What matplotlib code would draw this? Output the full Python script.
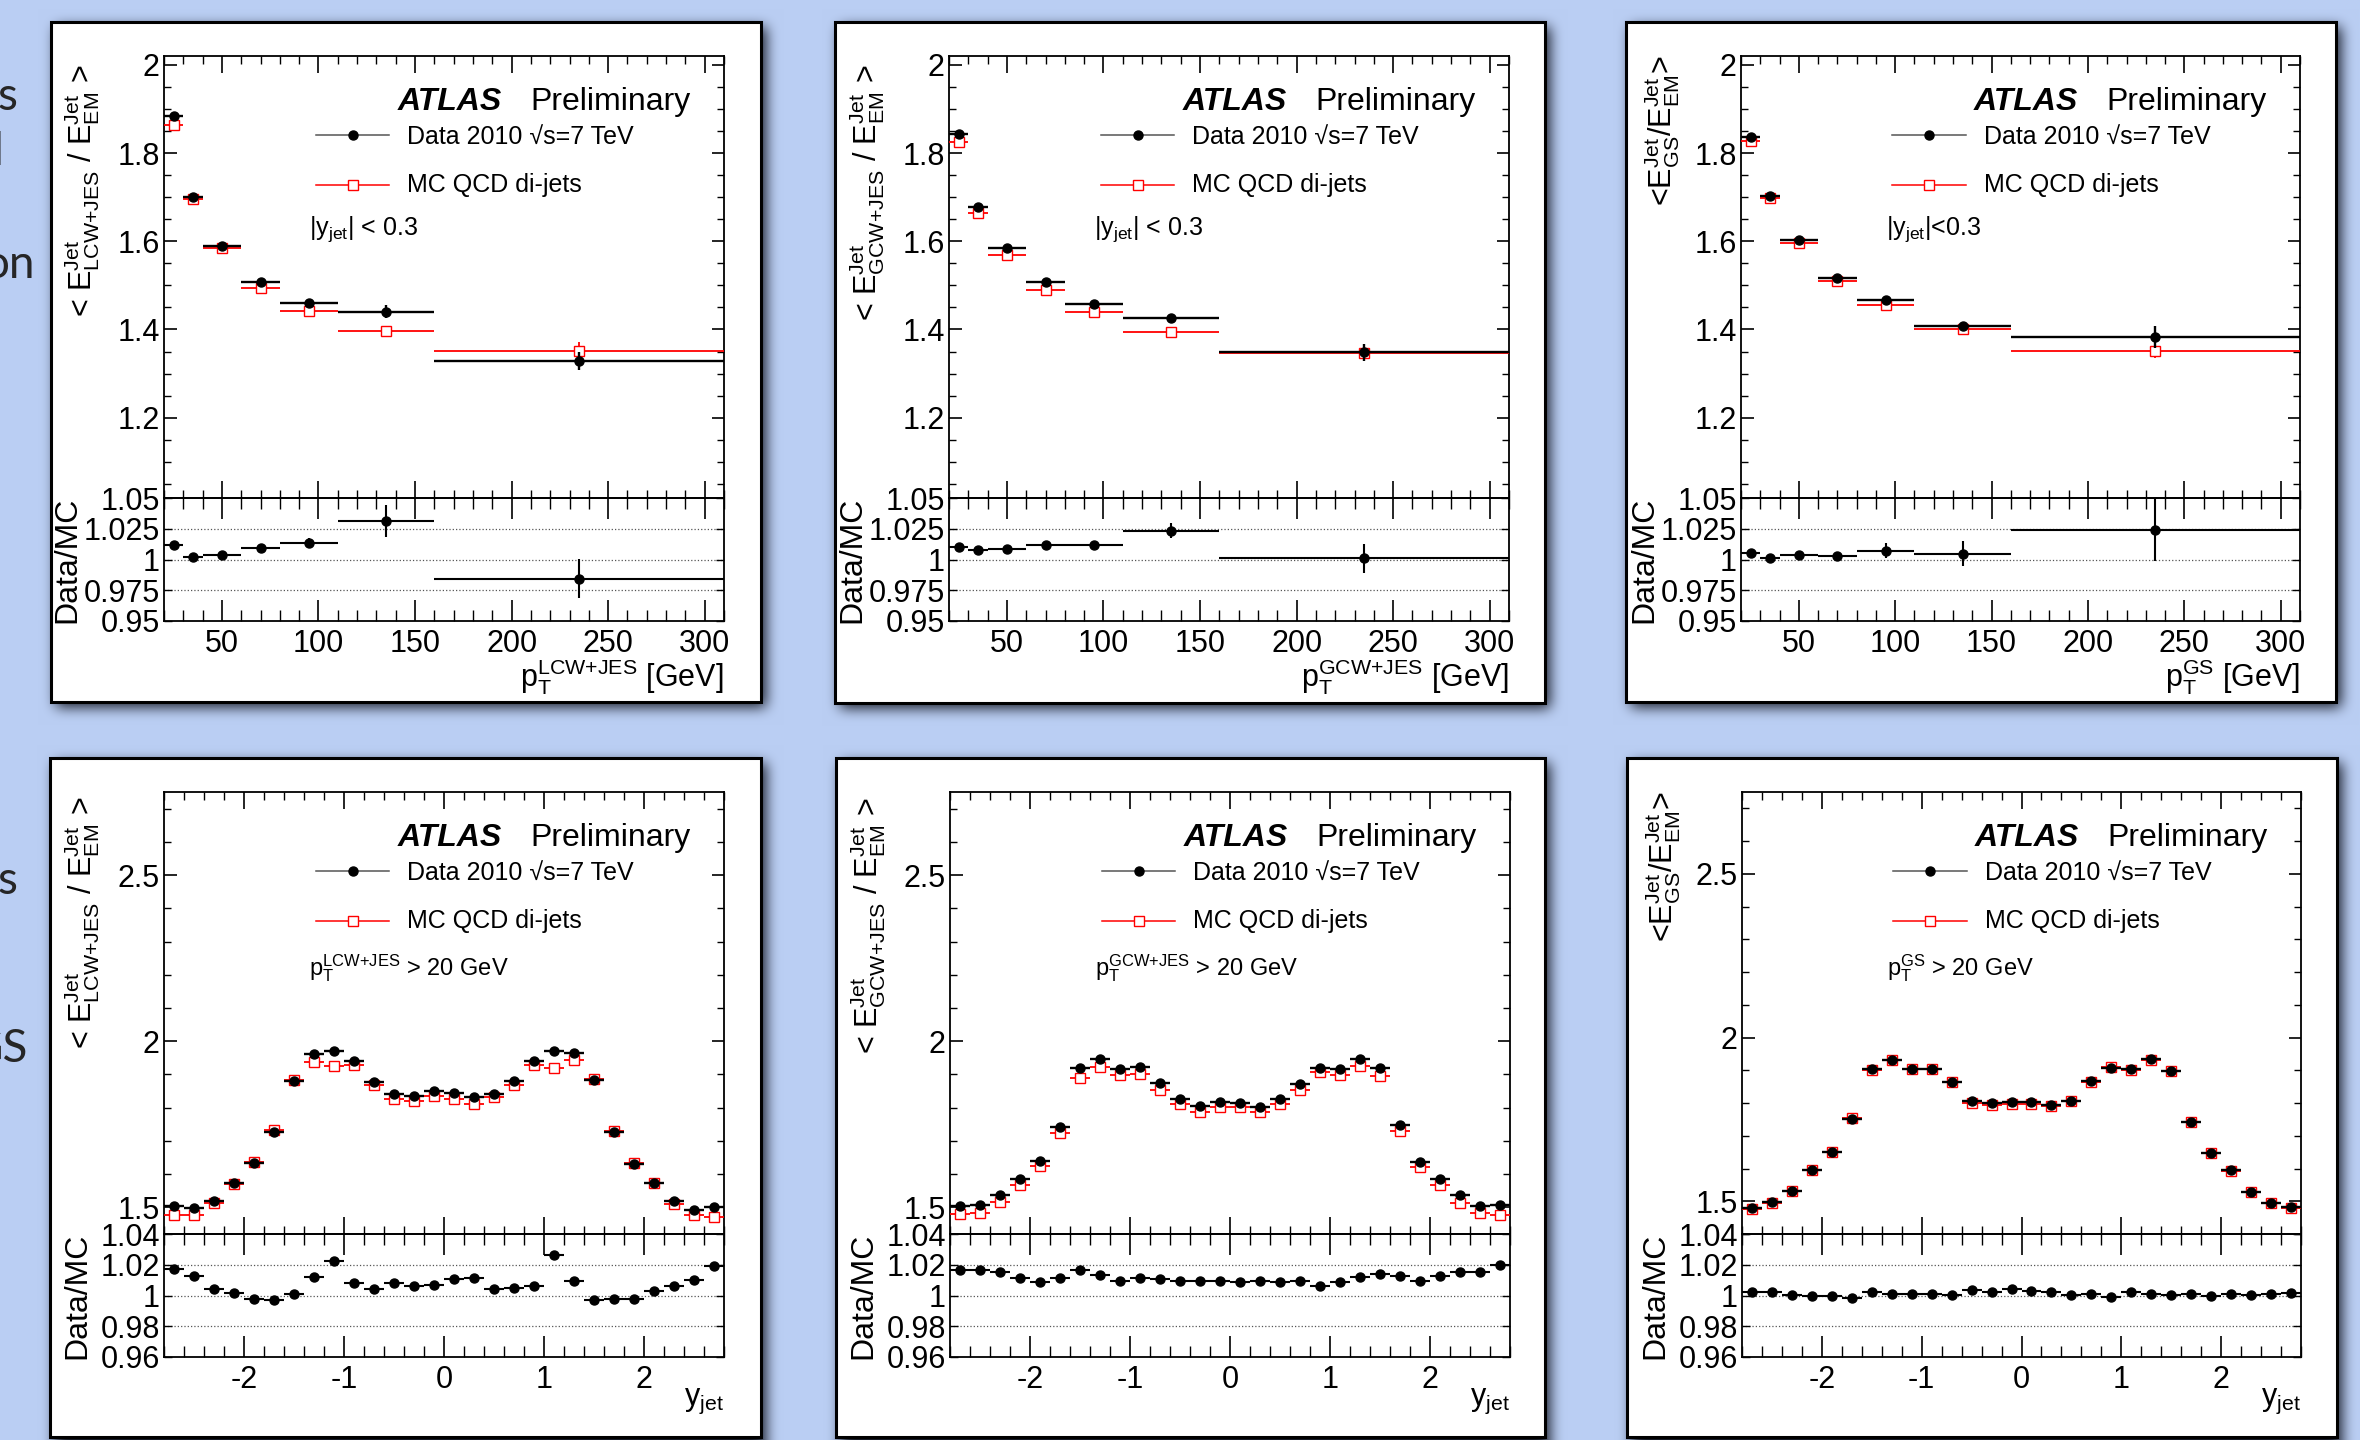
import numpy as np
import matplotlib
matplotlib.use('Agg')
import matplotlib.pyplot as plt
from matplotlib.patches import Rectangle
from matplotlib.ticker import FixedLocator, FixedFormatter, MultipleLocator

plt.rcParams['font.family'] = ['Liberation Sans', 'DejaVu Sans']
plt.rcParams['mathtext.fontset'] = 'custom'
plt.rcParams['mathtext.rm'] = 'Liberation Sans'
plt.rcParams['mathtext.it'] = 'Liberation Sans:italic'
plt.rcParams['mathtext.bf'] = 'Liberation Sans:bold'

W, H = 2360, 1440

# ---------------- pT binned, |y_jet| < 0.3 ----------------
pt_centres = [25, 35, 50, 70, 95, 135, 235]
pt_halfwidths = [5, 5, 10, 10, 15, 25, 75]

lcw_pt_data = [1.884, 1.700, 1.589, 1.508, 1.461, 1.440, 1.329]
lcw_pt_data_err = [0.002, 0.002, 0.002, 0.002, 0.003, 0.015, 0.020]
lcw_pt_mc = [1.863, 1.696, 1.584, 1.495, 1.443, 1.396, 1.351]
lcw_pt_mc_err = [0.002, 0.002, 0.002, 0.002, 0.002, 0.003, 0.020]
lcw_pt_ratio = [1.0114, 1.0020, 1.0040, 1.0096, 1.0136, 1.0313, 0.9845]
lcw_pt_ratio_err = [0.002, 0.002, 0.002, 0.002, 0.004, 0.013, 0.016]

gcw_pt_data = [1.843, 1.678, 1.584, 1.507, 1.458, 1.427, 1.348]
gcw_pt_data_err = [0.002, 0.002, 0.002, 0.002, 0.002, 0.004, 0.020]
gcw_pt_mc = [1.825, 1.664, 1.569, 1.489, 1.439, 1.394, 1.346]
gcw_pt_mc_err = [0.002, 0.002, 0.002, 0.002, 0.002, 0.003, 0.015]
gcw_pt_ratio = [1.0100, 1.0077, 1.0088, 1.0118, 1.0118, 1.0234, 1.0009]
gcw_pt_ratio_err = [0.002, 0.002, 0.002, 0.002, 0.002, 0.006, 0.012]

gs_pt_data = [1.836, 1.703, 1.603, 1.516, 1.466, 1.407, 1.382]
gs_pt_data_err = [0.002, 0.002, 0.002, 0.002, 0.003, 0.005, 0.025]
gs_pt_mc = [1.827, 1.697, 1.595, 1.509, 1.456, 1.400, 1.351]
gs_pt_mc_err = [0.002, 0.002, 0.002, 0.002, 0.002, 0.003, 0.015]
gs_pt_ratio = [1.0051, 1.0013, 1.0039, 1.0028, 1.0073, 1.0047, 1.0238]
gs_pt_ratio_err = [0.002, 0.002, 0.002, 0.003, 0.006, 0.010, 0.025]

# ---------------- y_jet binned, pT > 20 GeV ----------------
y_centres = [-2.7, -2.5, -2.3, -2.1, -1.9, -1.7, -1.5, -1.3, -1.1, -0.9,
             -0.7, -0.5, -0.3, -0.1, 0.1, 0.3, 0.5, 0.7, 0.9, 1.1,
             1.3, 1.5, 1.7, 1.9, 2.1, 2.3, 2.5, 2.7]
y_halfwidth = 0.1

lcw_y_data = [1.503, 1.497, 1.519, 1.572, 1.635, 1.727, 1.880, 1.961, 1.971, 1.942,
              1.877, 1.842, 1.836, 1.850, 1.844, 1.832, 1.840, 1.879, 1.942, 1.972,
              1.964, 1.882, 1.727, 1.631, 1.574, 1.519, 1.492, 1.501]
lcw_y_mc = [1.477, 1.478, 1.512, 1.569, 1.638, 1.733, 1.882, 1.938, 1.927, 1.928,
            1.868, 1.825, 1.820, 1.835, 1.825, 1.811, 1.832, 1.868, 1.930, 1.920,
            1.945, 1.887, 1.731, 1.634, 1.574, 1.511, 1.477, 1.472]
lcw_y_ratio = [1.0172, 1.0127, 1.0040, 1.0016, 0.9975, 0.9972, 1.0007, 1.0118, 1.0223, 1.0079,
               1.0040, 1.0079, 1.0061, 1.0067, 1.0109, 1.0115, 1.0043, 1.0046, 1.0064, 1.0262,
               1.0097, 0.9972, 0.9975, 0.9975, 1.0028, 1.0064, 1.0103, 1.0193]

gcw_y_data = [1.504, 1.507, 1.537, 1.585, 1.639, 1.741, 1.920, 1.948, 1.915, 1.923,
              1.873, 1.826, 1.804, 1.817, 1.815, 1.802, 1.826, 1.871, 1.919, 1.915,
              1.948, 1.920, 1.749, 1.638, 1.585, 1.536, 1.504, 1.506]
gcw_y_mc = [1.481, 1.482, 1.515, 1.567, 1.624, 1.723, 1.890, 1.923, 1.897, 1.901,
            1.853, 1.810, 1.787, 1.801, 1.801, 1.786, 1.810, 1.854, 1.906, 1.898,
            1.927, 1.894, 1.730, 1.621, 1.567, 1.514, 1.482, 1.478]
gcw_y_ratio = [1.0169, 1.0166, 1.0151, 1.0112, 1.0091, 1.0115, 1.0163, 1.0133, 1.0094, 1.0112,
               1.0106, 1.0094, 1.0097, 1.0097, 1.0088, 1.0097, 1.0088, 1.0097, 1.0064, 1.0091,
               1.0118, 1.0139, 1.0127, 1.0097, 1.0124, 1.0151, 1.0154, 1.0196]

gs_y_data = [1.480, 1.499, 1.532, 1.596, 1.651, 1.750, 1.905, 1.932, 1.905, 1.905,
             1.865, 1.807, 1.799, 1.804, 1.802, 1.795, 1.807, 1.867, 1.908, 1.905,
             1.934, 1.898, 1.743, 1.648, 1.594, 1.528, 1.496, 1.482]
gs_y_mc = [1.476, 1.496, 1.531, 1.597, 1.651, 1.753, 1.900, 1.931, 1.904, 1.904,
           1.865, 1.800, 1.795, 1.797, 1.797, 1.791, 1.807, 1.865, 1.910, 1.900,
           1.932, 1.897, 1.742, 1.648, 1.593, 1.528, 1.495, 1.480]
gs_y_ratio = [1.0025, 1.0022, 1.0004, 0.9995, 0.9998, 0.9983, 1.0025, 1.0007, 1.0007, 1.0007,
              1.0001, 1.0037, 1.0022, 1.0040, 1.0028, 1.0025, 1.0001, 1.0013, 0.9992, 1.0025,
              1.0010, 1.0004, 1.0007, 0.9998, 1.0007, 1.0001, 1.0007, 1.0016]

# tick labels
pt_ticks = [50, 100, 150, 200, 250, 300]
pt_ticklabels = ['50', '100', '150', '200', '250', '300']
y_ticks = [-2, -1, 0, 1, 2]
y_ticklabels = ['-2', '-1', '0', '1', '2']
pt_upper_ticks = [1.2, 1.4, 1.6, 1.8, 2.0]
pt_upper_ticklabels = ['1.2', '1.4', '1.6', '1.8', '2']
pt_ratio_ticks = [0.95, 0.975, 1.0, 1.025, 1.05]
pt_ratio_ticklabels = ['0.95', '0.975', '1', '1.025', '1.05']
y_upper_ticks = [1.5, 2.0, 2.5]
y_upper_ticklabels = ['1.5', '2', '2.5']
y_ratio_ticks = [0.96, 0.98, 1.0, 1.02, 1.04]
y_ratio_ticklabels = ['0.96', '0.98', '1', '1.02', '1.04']

fig = plt.figure(figsize=(W / 100, H / 100), dpi=100)

# ---- slide background with drop shadows ----
boxes = [(51, 22, 761, 702), (835, 22, 1545, 703), (1626, 22, 2336, 702),
         (50, 758, 761, 1437), (836, 758, 1545, 1437), (1627, 758, 2337, 1437)]


def blur1d(a, r, axis):
    pad = [(0, 0), (0, 0)]
    pad[axis] = (r + 1, r)
    c = np.cumsum(np.pad(a, pad, mode='edge'), axis=axis)
    n = a.shape[axis]
    hi = np.take(c, np.arange(2 * r + 1, n + 2 * r + 1), axis=axis)
    lo = np.take(c, np.arange(0, n), axis=axis)
    return (hi - lo) / (2 * r + 1)


mask = np.zeros((H, W))
off = 5
for (x0, y0, x1, y1) in boxes:
    mask[y0 + off:y1 + off, x0 + off:x1 + off] = 1.0
for _ in range(3):
    mask = blur1d(mask, 6, 0)
    mask = blur1d(mask, 6, 1)
bg_col = np.array([186, 206, 243]) / 255.0
sh_col = np.array([18, 22, 34]) / 255.0
a = np.clip(mask * 0.97, 0, 1)[..., None]
img = bg_col[None, None, :] * (1 - a) + sh_col[None, None, :] * a

bg = fig.add_axes([0, 0, 1, 1])
bg.set_zorder(-10)
bg.imshow(img, extent=(0, W, H, 0), interpolation='nearest')
for (x0, y0, x1, y1) in boxes:
    bg.add_patch(Rectangle((x0, y0), x1 - x0, y1 - y0, facecolor='white',
                           edgecolor='black', lw=2.2))
# slide text hidden behind the plots
for txt, xr, yb in [('s', 17, 110), ('l', 4, 165), ('on', 35, 278),
                    ('n', 2, 840), ('s', 17, 894), ('GS', 28, 1062)]:
    bg.text(xr, yb, txt, ha='right', va='baseline', fontsize=33,
            family='Lato', color='#262626')
bg.set_xlim(0, W)
bg.set_ylim(H, 0)
bg.axis('off')


def px_axes(x0, y0, x1, y1):
    return fig.add_axes([x0 / W, 1 - y1 / H, (x1 - x0) / W, (y1 - y0) / H])


def draw_panel(px, kind, data, data_err, mc, mc_err, ratio, ratio_err,
               ylab, xlab, cut, ylim, ylab_pos, rlab_x):
    x0, x1, ytop, ysep, ybot = px
    ax = px_axes(x0, ytop, x1, ysep)
    rax = px_axes(x0, ysep, x1, ybot)
    for a_ in (ax, rax):
        a_.set_facecolor('none')
        for s in a_.spines.values():
            s.set_linewidth(1.3)

    if kind == 'pt':
        xc, xe = pt_centres, pt_halfwidths
    else:
        xc, xe = y_centres, y_halfwidth

    ax.errorbar(xc, mc, xerr=xe, yerr=mc_err, fmt='s', ms=7, mfc='white',
                mec='red', mew=1.0, ecolor='red', elinewidth=1.3, capsize=0, zorder=3)
    ax.errorbar(xc, data, xerr=xe, yerr=data_err, fmt='o', ms=6.5, color='black',
                elinewidth=1.7, capsize=0, zorder=4)
    rax.errorbar(xc, ratio, xerr=xe, yerr=ratio_err, fmt='o', ms=6.5, color='black',
                 elinewidth=1.5, capsize=0, zorder=4)

    if kind == 'pt':
        xlim = (20, 310)
        xt, xtl, xminor = pt_ticks, pt_ticklabels, 10
        ut, utl, uminor = pt_upper_ticks, pt_upper_ticklabels, 0.05
        rt, rtl = pt_ratio_ticks, pt_ratio_ticklabels
        rlim = (0.95, 1.05)
        cut_y, cut_fs = 0.595, 18
        xlab_y = -0.53
    else:
        xlim = (-2.8, 2.8)
        xt, xtl, xminor = y_ticks, y_ticklabels, 0.2
        ut, utl, uminor = y_upper_ticks, y_upper_ticklabels, 0.1
        rt, rtl = y_ratio_ticks, y_ratio_ticklabels
        rlim = (0.96, 1.04)
        cut_y, cut_fs = 0.586, 17
        xlab_y = -0.39

    for lvl in rt[1:-1]:
        rax.axhline(lvl, color='#555555', ls=':', lw=0.9, zorder=1)

    ax.set_xlim(*xlim)
    rax.set_xlim(*xlim)
    ax.set_ylim(*ylim)
    rax.set_ylim(*rlim)

    for a_ in (ax, rax):
        a_.xaxis.set_major_locator(FixedLocator(xt))
        a_.xaxis.set_minor_locator(MultipleLocator(xminor))
        a_.tick_params(which='both', direction='in', top=True, right=True)
    ax.xaxis.set_major_formatter(FixedFormatter(xtl))
    rax.xaxis.set_major_formatter(FixedFormatter(xtl))
    ax.tick_params(labelbottom=False)
    ax.yaxis.set_major_locator(FixedLocator(ut))
    ax.yaxis.set_major_formatter(FixedFormatter(utl))
    ax.yaxis.set_minor_locator(MultipleLocator(uminor))
    rax.yaxis.set_major_locator(FixedLocator(rt))
    rax.yaxis.set_major_formatter(FixedFormatter(rtl))

    ax.xaxis.set_tick_params(which='major', length=12, width=1.2)
    ax.xaxis.set_tick_params(which='minor', length=6, width=1.0)
    ax.yaxis.set_tick_params(which='major', length=9, width=1.2, labelsize=22, pad=3)
    ax.yaxis.set_tick_params(which='minor', length=5, width=1.0)
    rax.xaxis.set_tick_params(which='major', length=15, width=1.2, labelsize=22, pad=6)
    rax.xaxis.set_tick_params(which='minor', length=8, width=1.0)
    rax.yaxis.set_tick_params(which='major', length=6, width=1.0, labelsize=22, pad=3)

    ax.set_ylabel(ylab, fontsize=22, loc='top')
    ax.yaxis.set_label_coords(*ylab_pos)
    rax.set_ylabel('Data/MC', fontsize=23)
    rax.yaxis.set_label_coords(rlab_x, 0.5)
    rax.text(1.0, xlab_y, xlab, transform=rax.transAxes, ha='right',
             va='baseline', fontsize=22)

    # ATLAS label and legend
    ax.text(0.417, 0.878, 'ATLAS', transform=ax.transAxes, fontsize=23,
            fontweight='bold', fontstyle='italic', va='baseline')
    ax.text(0.654, 0.878, 'Preliminary', transform=ax.transAxes, fontsize=23,
            va='baseline')
    ax.plot([0.271, 0.402], [0.821, 0.821], transform=ax.transAxes,
            color='#555555', lw=1.1)
    ax.plot([0.337], [0.821], 'o', transform=ax.transAxes, color='black', ms=6.5)
    ax.text(0.434, 0.817, 'Data 2010 \u221as=7 TeV', transform=ax.transAxes,
            fontsize=18, va='center')
    ax.plot([0.271, 0.402], [0.708, 0.708], transform=ax.transAxes,
            color='red', lw=1.1)
    ax.plot([0.337], [0.708], 's', transform=ax.transAxes, mfc='white',
            mec='red', mew=1.0, ms=7)
    ax.text(0.434, 0.708, 'MC QCD di-jets', transform=ax.transAxes,
            fontsize=18, va='center')
    ax.text(0.259, cut_y, cut, transform=ax.transAxes, fontsize=cut_fs,
            va='baseline')


top = (56, 498, 621)
bot = (792, 1234, 1357)

draw_panel((164, 724) + top, 'pt', lcw_pt_data, lcw_pt_data_err, lcw_pt_mc,
           lcw_pt_mc_err, lcw_pt_ratio, lcw_pt_ratio_err,
           r'< E$^{\rm Jet}_{\rm LCW{+}JES}$ / E$^{\rm Jet}_{\rm EM}$ >',
           r'p$^{\rm LCW{+}JES}_{\rm T}$ [GeV]', r'|y$_{\rm jet}$| < 0.3',
           (1.018, 2.02), (-0.111, 0.982), -0.146)
draw_panel((949, 1509) + top, 'pt', gcw_pt_data, gcw_pt_data_err, gcw_pt_mc,
           gcw_pt_mc_err, gcw_pt_ratio, gcw_pt_ratio_err,
           r'< E$^{\rm Jet}_{\rm GCW{+}JES}$ / E$^{\rm Jet}_{\rm EM}$ >',
           r'p$^{\rm GCW{+}JES}_{\rm T}$ [GeV]', r'|y$_{\rm jet}$| < 0.3',
           (1.018, 2.02), (-0.111, 0.982), -0.146)
draw_panel((1741, 2300) + top, 'pt', gs_pt_data, gs_pt_data_err, gs_pt_mc,
           gs_pt_mc_err, gs_pt_ratio, gs_pt_ratio_err,
           r'<E$^{\rm Jet}_{\rm GS}$/E$^{\rm Jet}_{\rm EM}$>',
           r'p$^{\rm GS}_{\rm T}$ [GeV]', r'|y$_{\rm jet}$|<0.3',
           (1.018, 2.02), (-0.105, 1.0), -0.146)

draw_panel((164, 724) + bot, 'y', lcw_y_data, 0.002, lcw_y_mc, 0.002,
           lcw_y_ratio, 0.001,
           r'< E$^{\rm Jet}_{\rm LCW{+}JES}$ / E$^{\rm Jet}_{\rm EM}$ >',
           r'y$_{\rm jet}$', r'p$^{\rm LCW{+}JES}_{\rm T}$ > 20 GeV',
           (1.42, 2.75), (-0.111, 0.99), -0.128)
draw_panel((950, 1510) + bot, 'y', gcw_y_data, 0.002, gcw_y_mc, 0.002,
           gcw_y_ratio, 0.001,
           r'< E$^{\rm Jet}_{\rm GCW{+}JES}$ / E$^{\rm Jet}_{\rm EM}$ >',
           r'y$_{\rm jet}$', r'p$^{\rm GCW{+}JES}_{\rm T}$ > 20 GeV',
           (1.42, 2.75), (-0.111, 0.99), -0.128)
draw_panel((1742, 2301) + bot, 'y', gs_y_data, 0.002, gs_y_mc, 0.002,
           gs_y_ratio, 0.001,
           r'<E$^{\rm Jet}_{\rm GS}$/E$^{\rm Jet}_{\rm EM}$>',
           r'y$_{\rm jet}$', r'p$^{\rm GS}_{\rm T}$ > 20 GeV',
           (1.40, 2.75), (-0.105, 1.0), -0.128)

fig.savefig('out.png', dpi=100)
